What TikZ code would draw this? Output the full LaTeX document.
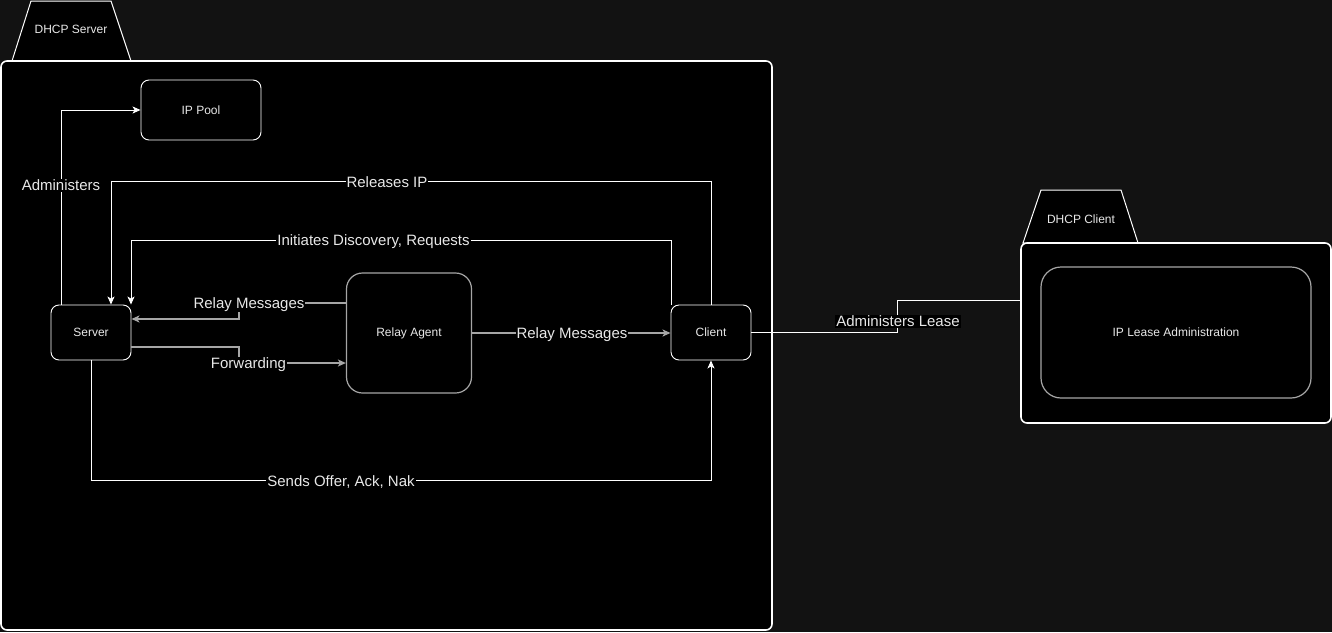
\documentclass[tikz,border=0pt]{standalone}
\usepackage{fontspec}
\setmainfont{Liberation Sans}
\usetikzlibrary{arrows.meta}
\definecolor{bg}{HTML}{121212}
\definecolor{lgray}{HTML}{A6A6A6}
\definecolor{txt}{HTML}{E8E8E8}
\begin{document}
\begin{tikzpicture}[x=1pt,y=-1pt,
 box/.style={draw=white, fill=black, rounded corners=8pt, line width=0.9pt, text=txt, font=\fontsize{12}{14}\selectfont, inner sep=0pt},
 gbox/.style={box, draw=lgray, line width=1.2pt},
 pkg/.style={draw=white, fill=black, rounded corners=6pt, line width=1.6pt, inner sep=0pt},
 tabshape/.style={draw=white, fill=black, line width=1pt},
 wire/.style={draw=white, line width=0.9pt},
 gwire/.style={draw=lgray, line width=1.4pt},
 tip/.style={-{Stealth[length=8pt,width=7pt,inset=2pt]}},
 lbl/.style={fill=black, text=txt, font=\fontsize{15}{17}\selectfont, inner sep=1pt, yshift=-1.5pt},
 ttl/.style={text=txt, font=\fontsize{12}{14}\selectfont}
]
\useasboundingbox[fill=bg] (0,0) rectangle (1332,632);

% DHCP Server package
\draw[tabshape] (31,1) -- (111,1) -- (131,61) -- (12,61) -- cycle;
\node[pkg, minimum width=771pt, minimum height=569pt] (dsrv) at (386.5,345.5) {};
\node[ttl] (tabS) at (71,29) {DHCP Server};

% DHCP Client package
\draw[tabshape] (1041,190) -- (1121,190) -- (1138,243) -- (1023,243) -- cycle;
\node[pkg, minimum width=310pt, minimum height=180pt] (dcl) at (1176,333) {};
\node[ttl] (tabC) at (1081,219) {DHCP Client};
\node[gbox, rounded corners=20pt, minimum width=270pt, minimum height=131pt] (lease) at (1176,332.5) {IP Lease Administration};

% inner nodes
\node[box, minimum width=120pt, minimum height=60pt] (pool) at (201,110) {IP Pool};
\node[box, minimum width=80pt, minimum height=55pt] (srv) at (91,332.5) {Server};
\node[gbox, rounded corners=16pt, minimum width=125pt, minimum height=120pt] (relay) at (409,333) {Relay Agent};
\node[box, minimum width=80pt, minimum height=55pt] (cli) at (711,332.5) {Client};

% connectors
\draw[wire, tip] ([xshift=-30pt]srv.north) |- (pool.west);
\draw[wire, tip] (cli.north) -- (cli.north |- 0,181) -| ([xshift=20pt]srv.north);
\draw[wire, tip] ([xshift=-40pt]cli.north) -- ([xshift=-40pt]cli.north |- 0,240) -| ([xshift=40pt]srv.north);
\draw[gwire, tip] (relay.west |- 0,303) -| (239,319) -- (srv.east |- 0,319);
\draw[gwire, tip] (srv.east |- 0,347) -| (239,363) -- (relay.west |- 0,363);
\draw[gwire, tip] (relay.east |- 0,333) -- (cli.west |- 0,333);
\draw[wire, tip] (srv.south) -- (srv.south |- 0,480) -| (cli.south);
\draw[wire] (cli.east) -| (897,300) -- (dcl.west |- 0,300);

% labels
\node[lbl] (lAdm) at (61,184) {Administers};
\node[lbl] (lRel) at (387,181) {Releases IP};
\node[lbl] (lIni) at (373.5,240) {Initiates Discovery, Requests};
\node[lbl] (lRM1) at (249,303) {Relay Messages};
\node[lbl] (lFwd) at (248.5,363) {Forwarding};
\node[lbl] (lRM2) at (572,333) {Relay Messages};
\node[lbl] (lOff) at (341,481) {Sends Offer, Ack, Nak};
\node[lbl] (lLea) at (898,320) {Administers Lease};
\end{tikzpicture}
\end{document}
